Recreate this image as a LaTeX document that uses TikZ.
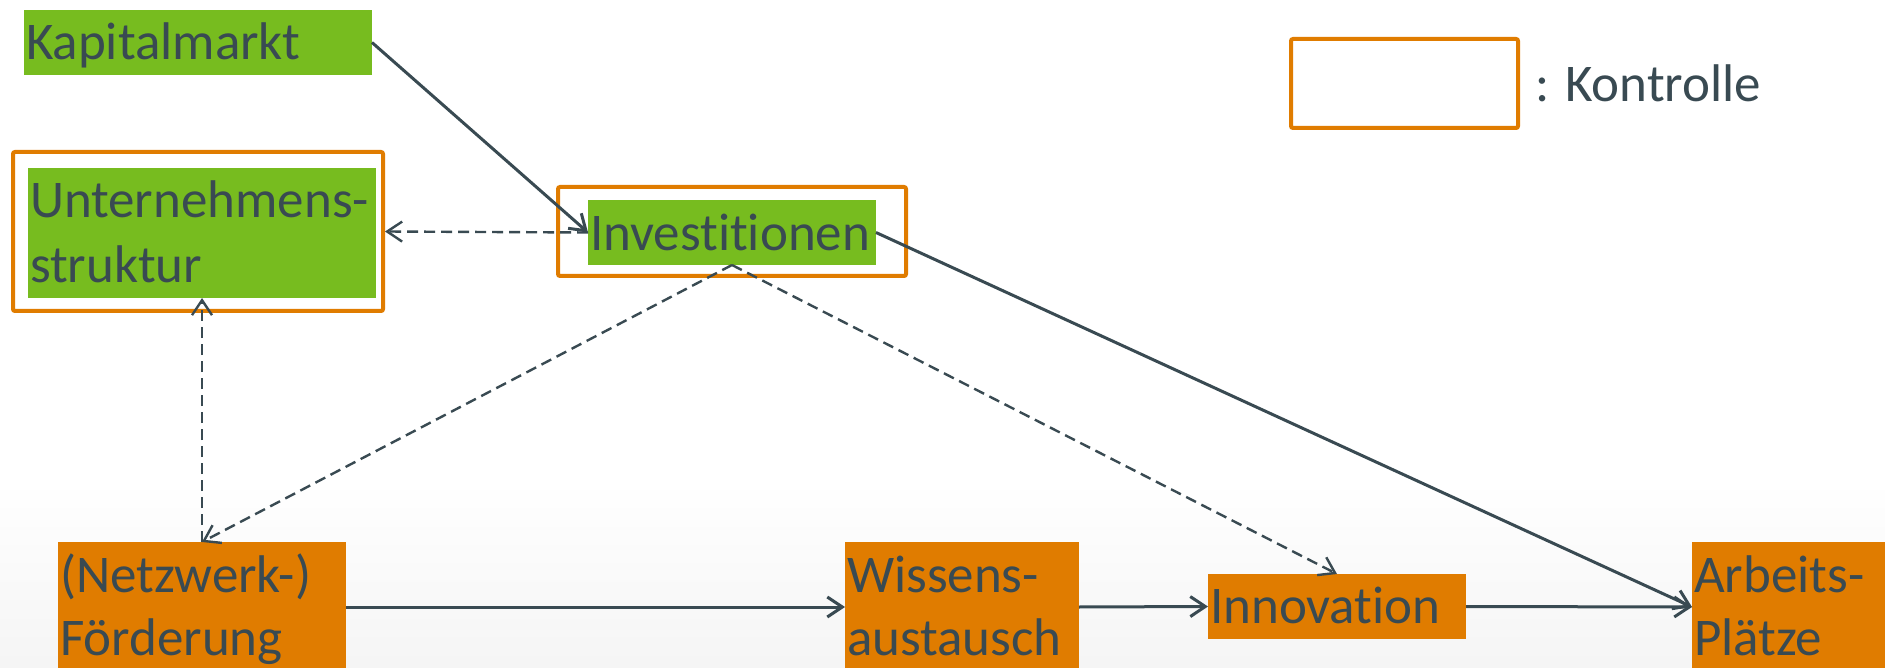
\documentclass[tikz,border=0pt]{standalone}
\usepackage{fontspec}
\setmainfont[Ligatures={NoCommon}]{Carlito}
\usetikzlibrary{arrows.meta}
\definecolor{leaf}{HTML}{77BC1F}
\definecolor{amber}{HTML}{E07C00}
\definecolor{slate}{HTML}{394A52}
\tikzset{
  greenbox/.style={fill=leaf, draw=none, inner sep=0pt, outer sep=0pt},
  orangebox/.style={fill=amber, draw=none, inner sep=0pt, outer sep=0pt},
  ctrlframe/.style={draw=amber, line width=2pt, rounded corners=1pt, inner sep=0pt},
  txt/.style={font=\fontsize{26.5}{32}\selectfont, text=slate, inner sep=0pt, outer sep=0pt},
  flow/.style={draw=slate, line width=1.5pt, -{Straight Barb[length=7.5pt, width=10pt]}},
  link/.style={draw=slate, line width=1.2pt, dash pattern=on 5.5pt off 3pt,
               -{Straight Barb[length=7.5pt, width=10pt]}},
}
\begin{document}
% one unit = one pixel of a 1885 x 668 canvas, y pointing down
\begin{tikzpicture}[x=0.5pt, y=-0.5pt]
  \useasboundingbox (0,0) rectangle (1885,668);
  \clip (0,0) rectangle (1885,668);
  \fill[white] (0,0) rectangle (1885,668);
  \shade[top color=white, bottom color=black!4] (0,480) rectangle (1885,668);

  % control frames
  \node[ctrlframe, minimum width=185pt, minimum height=79.5pt] (untframe) at (198,231.5) {};
  \node[ctrlframe, minimum width=174pt, minimum height=44.5pt] (invframe) at (732,231.5) {};
  \node[ctrlframe, minimum width=113.5pt, minimum height=44.5pt] (legend) at (1404.5,83.5) {};

  % green boxes
  \node[greenbox, minimum width=174pt, minimum height=32.5pt] (kap) at (198,42.5) {};
  \node[greenbox, minimum width=174pt, minimum height=65pt] (unt) at (202,233) {};
  \node[greenbox, minimum width=144pt, minimum height=32.5pt] (inv) at (732,232.5) {};

  % orange boxes
  \node[orangebox, minimum width=144pt, minimum height=65pt] (ford) at (202,607) {};
  \node[orangebox, minimum width=117pt, minimum height=65pt] (wis) at (962,607) {};
  \node[orangebox, minimum width=129pt, minimum height=32.5pt] (inn) at (1337,606.5) {};
  \node[orangebox, minimum width=117pt, minimum height=65pt] (arb) at (1809,607) {};

  % labels
  \node[txt, anchor=base west] (kapA) at (26,60) {Kapitalmarkt};
  \node[txt, anchor=base west] (untA) at (30,218) {Unternehmens-};
  \node[txt, anchor=base west] (untB) at (30,283) {struktur};
  \node[txt, anchor=base west] (invA) at (590,251) {Investitionen};
  \node[txt, anchor=base west] (legA) at (1535,102) {: Kontrolle};
  \node[txt, anchor=base west] (fordA) at (60,592) {(Netzwerk-)};
  \node[txt, anchor=base west] (fordB) at (60,655) {Förderung};
  \node[txt, anchor=base west] (wisA) at (847,592) {Wissens-};
  \node[txt, anchor=base west] (wisB) at (847,655) {austausch};
  \node[txt, anchor=base west] (innA) at (1210,623) {Innovation};
  \node[txt, anchor=base west] (arbA) at (1694,592) {Arbeits-};
  \node[txt, anchor=base west] (arbB) at (1694,655) {Plätze};

  % solid effects
  \draw[flow] (kap.east) -- (inv.west);
  \draw[flow] (inv.east) -- (arb.west);
  \draw[flow] (ford.east) -- (wis.west);
  \draw[flow] (wis.east) -- (inn.west);
  \draw[flow] (inn.east) -- (arb.west);

  % dashed influences
  \draw[link] (inv.west) -- (untframe.east);
  \draw[link] (ford.north) -- (unt.south);
  \draw[link] (inv.south) -- (ford.north);
  \draw[link] (inv.south) -- (inn.north);
\end{tikzpicture}
\end{document}
